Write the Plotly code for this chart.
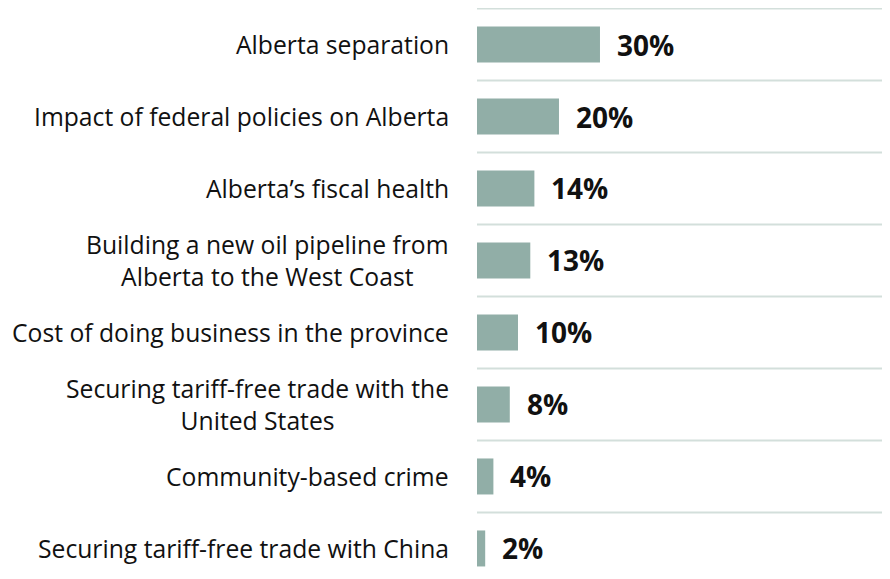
import plotly.graph_objects as go

categories = [
    "Alberta separation",
    "Impact of federal policies on Alberta",
    "Alberta\u2019s fiscal health",
    "Building a new oil pipeline from<br>Alberta to the West Coast",
    "Cost of doing business in the province",
    "Securing tariff-free trade with the<br>United States",
    "Community-based crime",
    "Securing tariff-free trade with China",
]
values = [30, 20, 14, 13, 10, 8, 4, 2]

bar_color = "#91AEA7"
grid_color = "#D3DFDB"
label_font = "Open Sans"

positions = list(range(len(categories)))

fig = go.Figure()
fig.add_trace(go.Bar(
    x=values,
    y=positions,
    orientation="h",
    width=0.5,
    marker=dict(color=bar_color, line=dict(width=0)),
    hoverinfo="skip",
))

# value labels to the right of each bar
for pos, val in zip(positions, values):
    fig.add_annotation(
        x=val, y=pos, xref="x", yref="y",
        text=f"<b>{val}%</b>",
        showarrow=False, xanchor="left", yanchor="middle", xshift=15,
        font=dict(family=label_font, size=28, color="#111111"),
    )

# category labels (right-anchored, multi-line ones centred within themselves)
for pos, cat in zip(positions, categories):
    fig.add_annotation(
        x=0, y=pos, xref="paper", yref="y",
        text=cat,
        showarrow=False, xanchor="right", yanchor="middle", align="center",
        xshift=-26,
        font=dict(family=label_font, size=24.7, color="#111111"),
    )

# separator lines between categories
for b in positions:
    fig.add_shape(
        type="line", xref="paper", yref="y",
        x0=0, x1=1, y0=b - 0.5, y1=b - 0.5,
        line=dict(color=grid_color, width=2),
    )

# page body adds an 8px margin, so the figure is sized to fit inside it
fig.update_layout(
    width=874, height=563,
    margin=dict(l=469, r=0, t=0, b=0),
    plot_bgcolor="white", paper_bgcolor="white",
    showlegend=False,
    xaxis=dict(range=[0, 98.8], visible=False, fixedrange=True),
    yaxis=dict(range=[7.313, -0.507], visible=False, fixedrange=True),
)

fig.write_html("out.html")
